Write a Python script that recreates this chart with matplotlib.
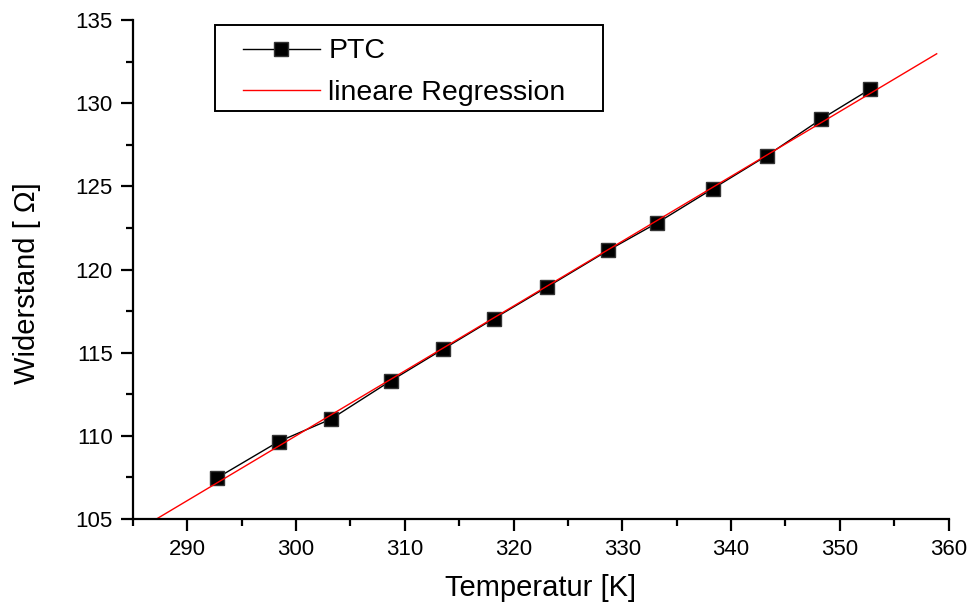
import numpy as np
import matplotlib
matplotlib.use("Agg")
import matplotlib.pyplot as plt
from matplotlib.ticker import MultipleLocator
from matplotlib.patches import Rectangle

plt.rcParams['font.family'] = ['Liberation Sans', 'DejaVu Sans']

# Messwerte PTC
temp = [292.7, 298.4, 303.2, 308.7, 313.5, 318.2, 323.1, 328.7, 333.2, 338.3, 343.3, 348.3, 352.8]
resist = [107.45, 109.65, 111.0, 113.3, 115.2, 117.05, 118.95, 121.15, 122.8, 124.85, 126.85, 129.05, 130.85]

# lineare Regression R = a + b*T
fit_a = -7.0
fit_b = 0.39
fit_range = [287.2, 358.9]

fig = plt.figure(figsize=(9.69, 6.07), dpi=100)
ax = fig.add_axes([0.137, 0.145, 0.842, 0.822])

ax.plot(temp, resist, color='black', lw=1, marker='s', ms=10,
        mfc='black', mec='#333333', label='PTC')
fit_x = np.array(fit_range)
ax.plot(fit_x, fit_a + fit_b * fit_x, color='red', lw=1, label='lineare Regression')

ax.set_xlim(285, 360)
ax.set_ylim(105, 135)
ax.xaxis.set_major_locator(MultipleLocator(10))
ax.xaxis.set_minor_locator(MultipleLocator(5))
ax.yaxis.set_major_locator(MultipleLocator(5))
ax.yaxis.set_minor_locator(MultipleLocator(2.5))

for s in ['top', 'right']:
    ax.spines[s].set_visible(False)
for s in ['left', 'bottom']:
    ax.spines[s].set_linewidth(1.6)

ax.tick_params(which='major', direction='out', length=8.5, width=1.6, labelsize=16, pad=6)
ax.tick_params(which='minor', direction='out', length=5, width=1.6)

# erster Tick (285) ohne Beschriftung
ax.set_xticks([290, 300, 310, 320, 330, 340, 350, 360])

ax.set_xlabel('Temperatur [K]', fontsize=21, labelpad=10)
ax.set_ylabel('Widerstand [ Ω]', fontsize=21)
ax.yaxis.set_label_coords(-0.112, 0.473)

# Legende im Origin-Stil: breiter Rahmen separat gezeichnet
ax.add_patch(Rectangle((0.1005, 0.818), 0.4755, 0.172, transform=ax.transAxes,
                       fill=True, facecolor='white', edgecolor='black', lw=1.4, zorder=4))
leg = ax.legend(loc='upper left', bbox_to_anchor=(0.135, 0.963), borderaxespad=0,
                fontsize=20.5, numpoints=1, handlelength=2.7, handletextpad=0.3,
                labelspacing=0.55, borderpad=0, frameon=False)
leg.set_zorder(5)

fig.savefig('out.png', dpi=100)
